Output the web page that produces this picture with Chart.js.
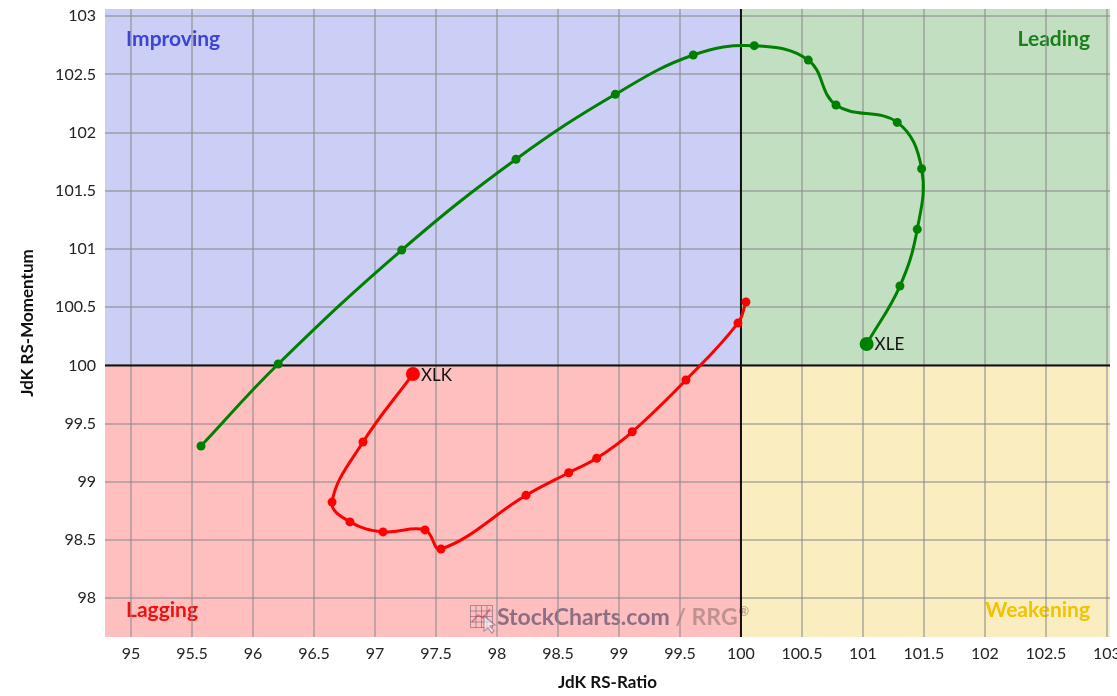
<!DOCTYPE html>
<html>
<head>
<meta charset="utf-8">
<script src="https://cdn.jsdelivr.net/npm/chart.js@4/dist/chart.umd.min.js"></script>
<style>
  html, body { margin: 0; padding: 0; background: #fff; }
  canvas { display: block; }
</style>
</head>
<body>
<canvas id="c" width="1117" height="696"></canvas>
<script>
// ---- data ----
const xleRatio    = [95.574, 96.207, 97.219, 98.156, 98.970, 99.609, 100.109, 100.552, 100.779, 101.281, 101.481, 101.445, 101.303, 101.030];
const xleMomentum = [99.308, 100.012, 100.991, 101.771, 102.329, 102.667, 102.747, 102.623, 102.237, 102.088, 101.690, 101.169, 100.682, 100.184];
const xlkRatio    = [100.041, 99.975, 99.549, 99.109, 98.817, 98.588, 98.238, 97.541, 97.410, 97.066, 96.795, 96.648, 96.902, 97.311];
const xlkMomentum = [100.545, 100.364, 99.875, 99.430, 99.202, 99.078, 98.884, 98.423, 98.587, 98.570, 98.656, 98.826, 99.342, 99.926];
const seriesNames = ["XLE", "XLK"];
const xTicks = [95, 95.5, 96, 96.5, 97, 97.5, 98, 98.5, 99, 99.5, 100, 100.5, 101, 101.5, 102, 102.5, 103];
const yTicks = [98, 98.5, 99, 99.5, 100, 100.5, 101, 101.5, 102, 102.5, 103];
const quadrantNames = ["Improving", "Leading", "Lagging", "Weakening"];
const centerValue = 100;
const xRange = [94.787, 103.025];
const yRange = [97.667, 103.062];

const toPoints = (xs, ys) => xs.map((x, i) => ({ x: x, y: ys[i] }));

const quadrantPlugin = {
  id: 'quadrants',
  beforeDraw(chart) {
    const { ctx, chartArea: a, scales: { x, y } } = chart;
    const cx = x.getPixelForValue(centerValue);
    const cy = y.getPixelForValue(centerValue);
    ctx.save();
    ctx.fillStyle = '#cbcff5'; ctx.fillRect(a.left, a.top, cx - a.left, cy - a.top);
    ctx.fillStyle = '#c2dfc2'; ctx.fillRect(cx, a.top, a.right - cx, cy - a.top);
    ctx.fillStyle = '#ffbfbf'; ctx.fillRect(a.left, cy, cx - a.left, a.bottom - cy);
    ctx.fillStyle = '#faedc0'; ctx.fillRect(cx, cy, a.right - cx, a.bottom - cy);

    ctx.font = 'bold 21px Lato';
    ctx.textBaseline = 'middle';
    ctx.textAlign = 'left';
    ctx.fillStyle = '#3a44d6'; ctx.fillText(quadrantNames[0], a.left + 21, a.top + 30);
    ctx.fillStyle = '#f01010'; ctx.fillText(quadrantNames[2], a.left + 21, a.bottom - 27);
    ctx.textAlign = 'right';
    ctx.fillStyle = '#1a801a'; ctx.fillText(quadrantNames[1], a.right - 20, a.top + 30);
    ctx.fillStyle = '#f2c200'; ctx.fillText(quadrantNames[3], a.right - 20, a.bottom - 27);

    // watermark
    const wx = 470, wy = 618;
    ctx.globalAlpha = 0.55;
    ctx.strokeStyle = '#6b5b7b'; ctx.lineWidth = 1;
    ctx.strokeRect(wx + 0.5, wy - 12.5, 22, 22);
    for (let i = 1; i < 4; i++) {
      ctx.beginPath(); ctx.moveTo(wx + 0.5 + i * 5.5, wy - 12); ctx.lineTo(wx + 0.5 + i * 5.5, wy + 10); ctx.stroke();
      ctx.beginPath(); ctx.moveTo(wx, wy - 12.5 + i * 5.5); ctx.lineTo(wx + 22, wy - 12.5 + i * 5.5); ctx.stroke();
    }
    ctx.strokeStyle = '#d03030'; ctx.lineWidth = 1.5;
    ctx.beginPath(); ctx.moveTo(wx + 2, wy + 4); ctx.lineTo(wx + 8, wy - 3); ctx.lineTo(wx + 13, wy); ctx.lineTo(wx + 20, wy - 9); ctx.stroke();
    ctx.fillStyle = '#ffffff'; ctx.strokeStyle = '#6b5b7b'; ctx.lineWidth = 1.2;
    ctx.beginPath(); ctx.moveTo(wx + 14, wy - 2); ctx.lineTo(wx + 14, wy + 13); ctx.lineTo(wx + 18, wy + 10); ctx.lineTo(wx + 22, wy + 15);
    ctx.lineTo(wx + 24, wy + 13); ctx.lineTo(wx + 20, wy + 8); ctx.lineTo(wx + 25, wy + 7); ctx.closePath(); ctx.fill(); ctx.stroke();
    ctx.globalAlpha = 1;
    ctx.font = 'bold 23px Lato';
    ctx.textAlign = 'left';
    ctx.fillStyle = 'rgba(95,80,110,0.72)';
    const t1 = 'StockCharts.com';
    ctx.fillText(t1, wx + 27, wy);
    const w1 = ctx.measureText(t1).width;
    ctx.fillStyle = 'rgba(140,110,110,0.55)';
    ctx.fillText(' / RRG', wx + 27 + w1, wy);
    const w2 = ctx.measureText(' / RRG').width;
    ctx.font = 'bold 13px Lato';
    ctx.fillText('®', wx + 28 + w1 + w2, wy - 6);
    ctx.restore();
  },
  beforeDatasetsDraw(chart) {
    const { ctx, chartArea: a, scales: { x, y } } = chart;
    const cx = x.getPixelForValue(centerValue);
    const cy = y.getPixelForValue(centerValue);
    ctx.save();
    ctx.strokeStyle = '#111'; ctx.lineWidth = 2;
    ctx.beginPath(); ctx.moveTo(cx, a.top); ctx.lineTo(cx, a.bottom); ctx.stroke();
    ctx.beginPath(); ctx.moveTo(a.left, cy); ctx.lineTo(a.right, cy); ctx.stroke();
    ctx.restore();
  },
  afterDatasetsDraw(chart) {
    const { ctx } = chart;
    ctx.save();
    ctx.font = '17px Lato';
    ctx.fillStyle = '#111';
    ctx.textBaseline = 'middle';
    ctx.textAlign = 'left';
    chart.data.datasets.forEach((ds, i) => {
      const meta = chart.getDatasetMeta(i);
      const last = meta.data[meta.data.length - 1];
      ctx.fillText(ds.label, last.x + 8, last.y + 1);
    });
    ctx.restore();
  }
};

const endRadius = (ctx) => ctx.dataIndex === ctx.dataset.data.length - 1 ? 7 : 4.5;

new Chart(document.getElementById('c'), {
  type: 'scatter',
  data: {
    datasets: [
      {
        label: seriesNames[0],
        data: toPoints(xleRatio, xleMomentum),
        showLine: true, tension: 0.4,
        borderColor: '#008000', backgroundColor: '#008000',
        borderWidth: 3, pointRadius: endRadius, pointBorderWidth: 0
      },
      {
        label: seriesNames[1],
        data: toPoints(xlkRatio, xlkMomentum),
        showLine: true, tension: 0.4,
        borderColor: '#ff0000', backgroundColor: '#ff0000',
        borderWidth: 3, pointRadius: endRadius, pointBorderWidth: 0
      }
    ]
  },
  options: {
    responsive: false,
    animation: false,
    devicePixelRatio: 1,
    layout: { padding: { top: 9, right: 7, left: 0, bottom: 0 } },
    plugins: { legend: { display: false }, tooltip: { enabled: false } },
    scales: {
      x: {
        type: 'linear', min: xRange[0], max: xRange[1],
        afterBuildTicks: (s) => { s.ticks = xTicks.map(v => ({ value: v })); },
        afterFit: (s) => { s.height = 59; s.paddingLeft = 0; s.paddingRight = 0; },
        border: { display: false },
        grid: { color: 'rgba(140,140,140,0.55)', lineWidth: 2, drawTicks: false },
        ticks: { padding: 7, color: '#222', font: { family: 'Lato', size: 16 }, maxRotation: 0, autoSkip: false,
                 callback: (v) => String(v) },
        title: { display: true, text: 'JdK RS-Ratio', color: '#111', font: { family: 'Lato', size: 17, weight: 'bold' },
                 padding: { top: 4, bottom: 3 } }
      },
      y: {
        type: 'linear', min: yRange[0], max: yRange[1],
        afterBuildTicks: (s) => { s.ticks = yTicks.map(v => ({ value: v })); },
        afterFit: (s) => { s.width = 105; s.paddingTop = 0; s.paddingBottom = 0; },
        border: { display: false },
        grid: { color: 'rgba(140,140,140,0.55)', lineWidth: 2, drawTicks: false },
        ticks: { padding: 9, color: '#222', font: { family: 'Lato', size: 16 }, autoSkip: false,
                 callback: (v) => String(v) },
        title: { display: true, text: 'JdK RS-Momentum', color: '#111', font: { family: 'Lato', size: 17, weight: 'bold' },
                 padding: { top: 17, bottom: 0 } }
      }
    }
  },
  plugins: [quadrantPlugin]
});
</script>
</body>
</html>
